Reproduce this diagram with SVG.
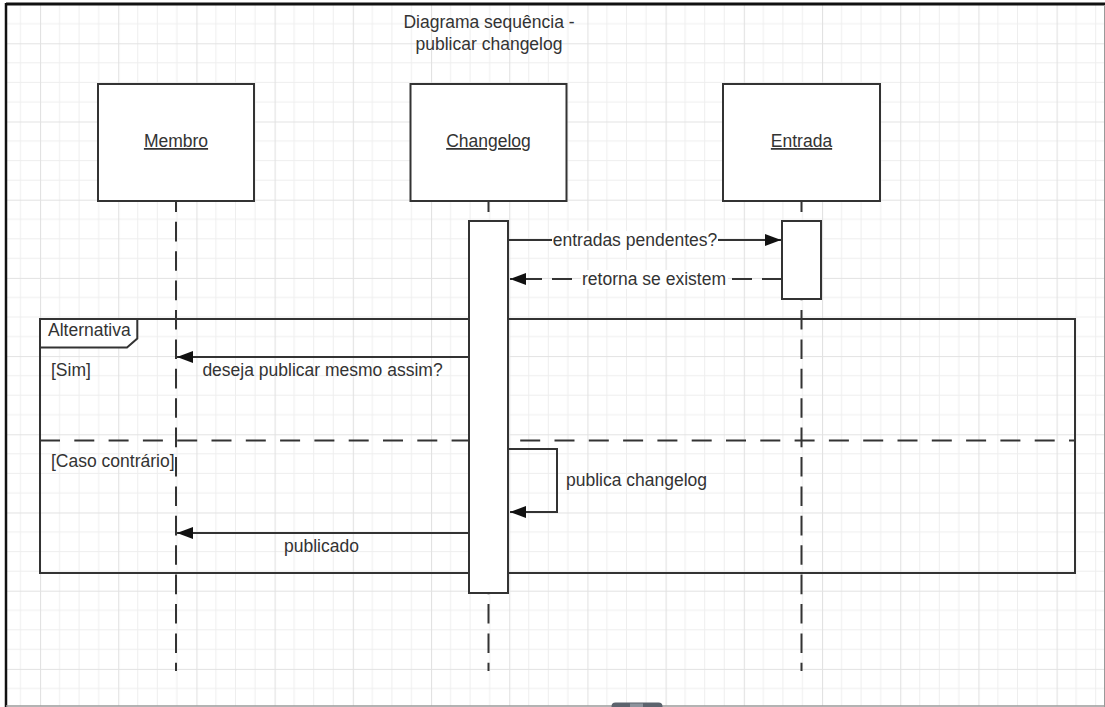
<svg xmlns="http://www.w3.org/2000/svg" width="1105" height="707" viewBox="0 0 1105 707">
  <style>
    text { font-family: "Liberation Sans", Arial, sans-serif; font-size: 17.5px; fill: #333; }
    .c { text-anchor: middle; }
    .u { text-decoration: underline; }
    .box { fill: #fff; stroke: #333; stroke-width: 2; }
    .act { fill: #fff; stroke: #333; stroke-width: 2; }
    .life { fill: none; stroke: #333; stroke-width: 2; stroke-dasharray: 19.6 9.8; stroke-dashoffset: 8.6; }
    .msg { fill: none; stroke: #333; stroke-width: 2; marker-end: url(#head); }
    .ret { fill: none; stroke: #333; stroke-width: 2; stroke-dasharray: 20 10; marker-end: url(#head); }
    .frame { fill: none; stroke: #333; stroke-width: 2; }
    .sep { fill: none; stroke: #333; stroke-width: 2; stroke-dasharray: 20 14.3; }
  </style>
  <defs>
    <pattern id="grid" patternUnits="userSpaceOnUse" x="40" y="43.3" width="78.2" height="78.2">
      <path d="M19.55 0V78.2M39.1 0V78.2M58.65 0V78.2M0 19.55H78.2M0 39.1H78.2M0 58.65H78.2" stroke="#eeeeee" stroke-width="1" fill="none"/>
      <path d="M0.5 0V78.2M0 0.5H78.2" stroke="#e2e2e2" stroke-width="1.2" fill="none"/>
    </pattern>
    <marker id="head" markerUnits="userSpaceOnUse" markerWidth="18" markerHeight="14" refX="16" refY="6" orient="auto">
      <path d="M0 0L16 6L0 12Z" fill="#111"/>
    </marker>
  </defs>

  <!-- canvas -->
  <rect x="0" y="0" width="1105" height="707" fill="#fff"/>
  <rect x="6" y="4" width="1098" height="702" fill="url(#grid)"/>
  <line x1="6" y1="4" x2="1105" y2="4" stroke="#111" stroke-width="3"/>
  <line x1="6" y1="3" x2="6" y2="707" stroke="#111" stroke-width="2.5"/>
  <line x1="1104.5" y1="5" x2="1104.5" y2="707" stroke="#9a9a9a" stroke-width="1"/>
  <line x1="6" y1="706" x2="1105" y2="706" stroke="#9a9a9a" stroke-width="1.5"/>
  <rect x="611.5" y="702.5" width="51" height="10" rx="4" fill="#5c636d"/>
  <rect x="630" y="703.5" width="13" height="4" fill="#8c939c"/>

  <!-- title -->
  <text class="c" x="489" y="28">Diagrama sequência -</text>
  <text class="c" x="489" y="50">publicar changelog</text>

  <!-- combined fragment: alternativa -->
  <g id="alt-frame">
    <rect class="frame" x="40" y="319" width="1035" height="254"/>
    <path d="M40 319H137.3V338.5L127 347.5H40Z" fill="#fff" stroke="#333" stroke-width="2"/>
    <text x="48" y="336">Alternativa</text>
    <line class="sep" x1="40" y1="440.5" x2="1075" y2="440.5"/>
    <text x="51" y="376">[Sim]</text>
    <text x="51" y="467">[Caso contrário]</text>
  </g>

  <!-- lifelines -->
  <g id="lifelines">
    <line class="life" x1="176" y1="201" x2="176" y2="671"/>
    <line class="life" x1="488.5" y1="201" x2="488.5" y2="671"/>
    <line class="life" x1="801.5" y1="201" x2="801.5" y2="671"/>
  </g>

  <!-- participants -->
  <g id="membro">
    <rect class="box" x="98" y="84" width="156" height="117"/>
    <text class="c u" x="176" y="147">Membro</text>
  </g>
  <g id="changelog">
    <rect class="box" x="410.5" y="84" width="156" height="117"/>
    <text class="c u" x="488.5" y="147">Changelog</text>
    <rect class="act" x="469" y="221" width="39" height="372"/>
  </g>
  <g id="entrada">
    <rect class="box" x="723" y="84" width="157" height="117"/>
    <text class="c u" x="801.5" y="147">Entrada</text>
    <rect class="act" x="782" y="221" width="39" height="78"/>
  </g>

  <!-- messages -->
  <g id="connectors">
    <line class="msg" x1="508" y1="240" x2="781" y2="240"/>
    <rect x="552" y="231" width="166" height="19" fill="#fff"/>
    <text class="c" x="635" y="246">entradas pendentes?</text>

    <line class="ret" x1="782" y1="279" x2="510" y2="279"/>
    <rect x="581" y="270" width="147" height="19" fill="#fff"/>
    <text class="c" x="654" y="285">retorna se existem</text>

    <line class="msg" x1="469" y1="357" x2="177" y2="357"/>
    <text class="c" x="322.5" y="376">deseja publicar mesmo assim?</text>

    <path class="msg" d="M508 449H557V512H510"/>
    <text x="566" y="486">publica changelog</text>

    <line class="msg" x1="469" y1="533" x2="177" y2="533"/>
    <text class="c" x="321.5" y="552">publicado</text>
  </g>
</svg>
